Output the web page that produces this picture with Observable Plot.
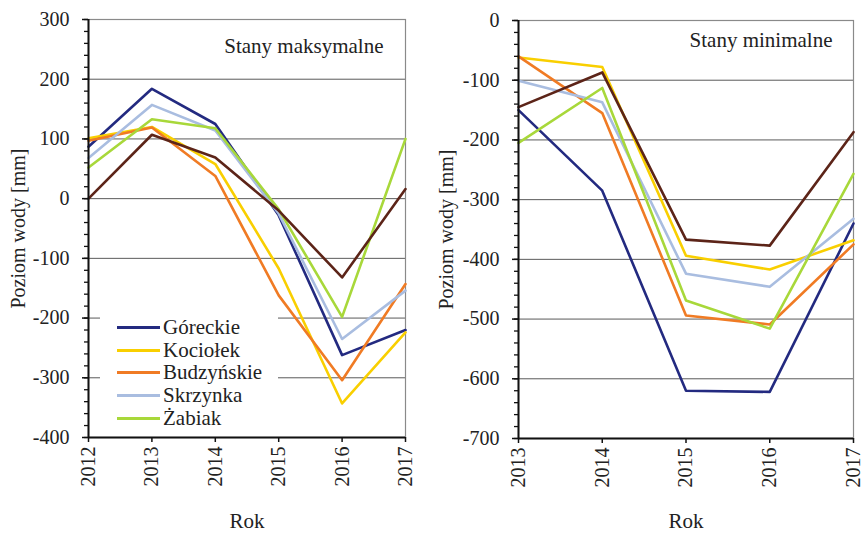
<!DOCTYPE html>
<html><head><meta charset="utf-8">
<script src="https://cdn.jsdelivr.net/npm/d3@7"></script>
<script src="https://cdn.jsdelivr.net/npm/@observablehq/plot@0.6"></script>
<style>
body{margin:0;background:#fff;}
</style></head>
<body><div id="wrap" style="position:relative;width:863px;height:534px;font-family:'Liberation Serif',serif"><div id="left" style="position:absolute;top:0;left:0"></div><div id="right" style="position:absolute;top:0;left:430px"></div><div id="legend" style="position:absolute;left:100px;top:310px;width:178px;height:120px;background:#fff;padding-top:6px;box-sizing:border-box;font-family:'Liberation Serif',serif"></div></div>
<script>
// ---- data ----
const seriesNames = ["Góreckie", "Kociołek", "Budzyńskie", "Skrzynka", "Żabiak", "seria 6"];
const legendNames = ["Góreckie", "Kociołek", "Budzyńskie", "Skrzynka", "Żabiak"];
const seriesColors = ["#232a80", "#f9cf00", "#f07b24", "#a9bde0", "#a8d83a", "#5c2418"];

const yearsMax = [2012, 2013, 2014, 2015, 2016, 2017];
const maxGoreckie   = [87, 184, 125, -28, -262, -220];
const maxKociolek   = [101, 120, 58, -117, -343, -224];
const maxBudzynskie = [97, 119, 38, -162, -304, -143];
const maxSkrzynka   = [68, 157, 114, -25, -235, -154];
const maxZabiak     = [52, 133, 118, -18, -198, 100];
const maxSeria6     = [0, 107, 69, -20, -132, 16];

const yearsMin = [2013, 2014, 2015, 2016, 2017];
const minGoreckie   = [-150, -285, -620, -622, -340];
const minKociolek   = [-62, -78, -394, -417, -368];
const minBudzynskie = [-60, -155, -494, -509, -375];
const minSkrzynka   = [-101, -137, -424, -446, -332];
const minZabiak     = [-205, -113, -469, -516, -257];
const minSeria6     = [-145, -87, -367, -377, -187];

const maxTicks = [-400, -300, -200, -100, 0, 100, 200, 300];
const maxGrid = [-300, -200, -100, 0, 100, 200];
const minTicks = [-700, -600, -500, -400, -300, -200, -100, 0];
const minGrid = [-600, -500, -400, -300, -200, -100];

const yLabel = "Poziom wody [mm]";
const xLabel = "Rok";
const titleMax = "Stany maksymalne";
const titleMin = "Stany minimalne";

const FONT = "Liberation Serif";

// ---- build ----
function toRows(years, lists) {
  return lists.flatMap((vals, i) => vals.map((v, j) => ({year: years[j], value: v, name: seriesNames[i]})));
}

function panel(o) {
  const data = toRows(o.years, o.lists);
  const minor = d3.range(o.domainY[0], o.domainY[1] + 1, 20);
  const x0 = o.years[0], y0 = o.domainY[0];
  const svg = Plot.plot({
    width: o.width, height: 534,
    marginLeft: o.ml, marginRight: o.mr, marginTop: o.mt, marginBottom: o.mb,
    style: "font-family:'Liberation Serif',serif;font-size:20px;color:#222;background:transparent;overflow:visible",
    x: {domain: [o.years[0], o.years[o.years.length - 1]], axis: null},
    y: {domain: o.domainY, axis: null},
    color: {domain: seriesNames, range: seriesColors},
    marks: [
      Plot.gridY(o.grid, {stroke: "#5a5a5a", strokeOpacity: 1, strokeWidth: 1}),
      Plot.frame({stroke: "#8a8a8a", strokeWidth: 1.2}),
      Plot.line(data, {x: "year", y: "value", z: "name", stroke: "name", strokeWidth: 2.6}),
      Plot.axisY(minor, {tickSize: 4, tickFormat: () => "", label: null, stroke: "#111", strokeWidth: 1.3}),
      Plot.axisY(o.ticks, {tickSize: 6, tickPadding: 13, tickFormat: d => String(d), label: null, stroke: "#111", strokeWidth: 1.5, fontFamily: FONT, fontSize: 20}),
      Plot.axisX(o.years, {tickSize: 5, tickRotate: -90, tickPadding: 4, tickFormat: d => String(d), label: null, stroke: "#111", strokeWidth: 1.5, fontFamily: FONT, fontSize: 20}),
      Plot.ruleX([x0], {stroke: "#111", strokeWidth: 2}),
      Plot.ruleY([y0], {stroke: "#111", strokeWidth: 2}),
      Plot.text([o.title], {frameAnchor: "top-right", dx: o.tdx, dy: o.tdy, textAnchor: "end", lineAnchor: "middle", fontSize: 21, fill: "#222", fontFamily: FONT}),
      Plot.text([yLabel], {frameAnchor: "left", dx: o.ydx, rotate: -90, textAnchor: "middle", lineAnchor: "middle", fontSize: 20, fill: "#222", fontFamily: FONT}),
      Plot.text([xLabel], {frameAnchor: "bottom", dy: o.rdy, textAnchor: "middle", lineAnchor: "middle", fontSize: 21, fill: "#222", fontFamily: FONT})
    ]
  });
  svg.querySelectorAll("text").forEach(t => t.style.fontFamily = "'Liberation Serif', serif");
  return svg;
}

document.getElementById("left").append(panel({
  years: yearsMax, lists: [maxGoreckie, maxKociolek, maxBudzynskie, maxSkrzynka, maxZabiak, maxSeria6],
  domainY: [-400, 300], ticks: maxTicks, grid: maxGrid, title: titleMax,
  width: 430, ml: 88, mr: 25, mt: 19, mb: 97, tdx: -22, tdy: 27, ydx: -70, rdy: 84
}));
document.getElementById("right").append(panel({
  years: yearsMin, lists: [minGoreckie, minKociolek, minBudzynskie, minSkrzynka, minZabiak, minSeria6],
  domainY: [-700, 0], ticks: minTicks, grid: minGrid, title: titleMin,
  width: 433, ml: 88, mr: 10, mt: 20, mb: 96, tdx: -21, tdy: 20, ydx: -72, rdy: 83
}));

const leg = document.getElementById("legend");
legendNames.forEach(n => {
  const row = document.createElement("div");
  row.style.cssText = "height:22.7px;display:flex;align-items:center;font-size:21px;color:#222;line-height:1;font-family:'Liberation Serif',serif";
  const sw = document.createElement("span");
  sw.style.cssText = "width:43px;height:3px;margin-left:17px;margin-right:3px;display:inline-block";
  sw.style.background = seriesColors[seriesNames.indexOf(n)];
  const t = document.createElement("span");
  t.textContent = n;
  row.append(sw, t);
  leg.append(row);
});
</script>
</body></html>
